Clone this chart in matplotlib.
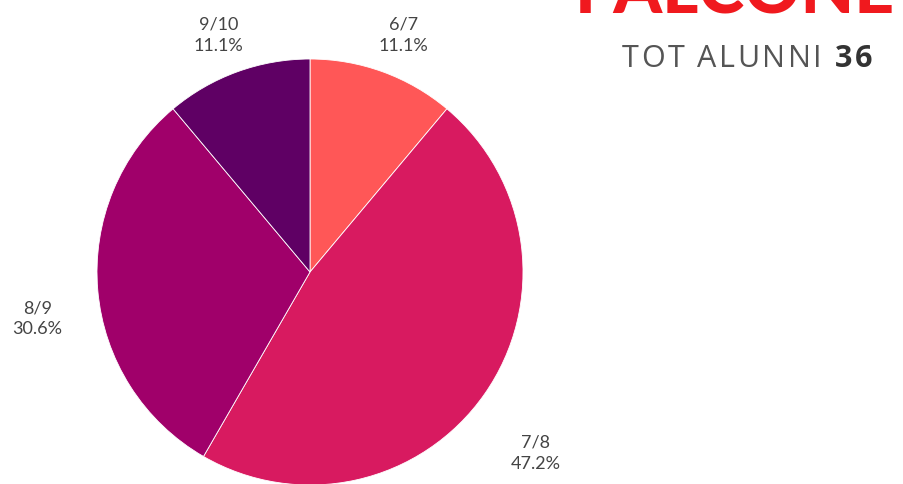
import matplotlib.pyplot as plt
import numpy as np

# Students per class group
classes = ['6/7', '7/8', '8/9', '9/10']
students = [4, 17, 11, 4]
colors = ['#FF5757', '#D81A60', '#A0006A', '#5F0064']

# label anchors relative to the pie centre (radius = 1)
label_pos = [(0.44, 1.11), (1.06, -0.85), (-1.28, -0.22), (-0.43, 1.11)]

total = sum(students)

W, H = 904, 484


def spaced_text(fig, right_px, base_px, parts, tracking=2.5):
    """Write (string, style) parts letter by letter, right-aligned at right_px."""
    r = fig.canvas.get_renderer()
    chars = []
    for s, style in parts:
        for ch in s:
            t = fig.text(0, 1 - base_px / H, ch, va='baseline', **style)
            if ch == ' ':
                w = style['fontsize'] * 1.389 * 0.26
            else:
                w = t.get_window_extent(r).width
            chars.append((t, w))
    total_w = sum(w for _, w in chars) + tracking * (len(chars) - 1)
    x = right_px - total_w
    for t, w in chars:
        t.set_x(x / W)
        x += w + tracking


def main():
    fig = plt.figure(figsize=(9.04, 4.84), dpi=100)
    cx, cy, r = 310, 272, 213
    ax = fig.add_axes([(cx - r) / W, (H - cy - r) / H, 2 * r / W, 2 * r / H])

    ax.pie(students, colors=colors, startangle=90, counterclock=False,
           radius=1, wedgeprops={'edgecolor': 'white', 'linewidth': 0.6})
    ax.set_xlim(-1, 1)
    ax.set_ylim(-1, 1)
    ax.axis('off')

    for name, val, (x, y) in zip(classes, students, label_pos):
        pct = 100 * val / total
        ax.text(x, y, f'{name}\n{pct:.1f}%', ha='center', va='center',
                fontsize=13, color='#444444', family='Lato',
                linespacing=1.4, clip_on=False)

    # school name and student count, top right
    fig.text(0.99, 1 - 14 / H, 'FALCONE', ha='right', va='baseline',
             fontsize=50, fontweight='black', color='#F0191E', family='Lato')
    light = dict(fontsize=22, color='#555555', family='Open Sans')
    bold = dict(fontsize=22, color='#333333', family='Open Sans', fontweight='bold')
    spaced_text(fig, 872, 67, [('TOT ALUNNI ', light), (str(total), bold)])

    fig.savefig('out.png', dpi=100, facecolor='white')


if __name__ == '__main__':
    main()
